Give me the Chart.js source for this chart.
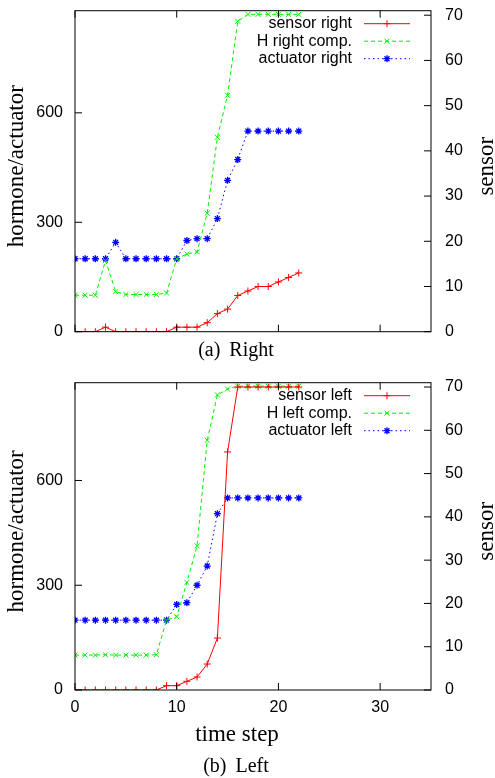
<!DOCTYPE html>
<html>
<head>
<meta charset="utf-8">
<script src="https://cdn.jsdelivr.net/npm/chart.js@4.4.1/dist/chart.umd.min.js"></script>
<style>
  body { margin: 0; background: #fff; width: 495px; height: 778px; position: relative; overflow: hidden; }
  canvas { position: absolute; left: 0; }
  .cap { position: absolute; left: 0; width: 472px; text-align: center; font: 20px "Liberation Serif", serif; word-spacing: 4px; }
</style>
</head>
<body>
<canvas id="chartRight" width="495" height="342" style="top:0"></canvas>
<div class="cap" style="top:338px">(a) Right</div>
<canvas id="chartLeft" width="495" height="380" style="top:370px"></canvas>
<div class="cap" style="top:754px">(b) Left</div>
<script>
// time steps (x)
const steps = [0, 1, 2, 3, 4, 5, 6, 7, 8, 9, 10, 11, 12, 13, 14, 15, 16, 17, 18, 19, 20, 21, 22];
const xTicks = [0, 10, 20, 30];

// (a) right side
const sensorRight   = [0, 0, 0, 1, 0, 0, 0, 0, 0, 0, 1, 1, 1, 2, 4, 5, 8, 9, 10, 10, 11, 12, 13];
const hormoneRight  = [100, 100, 100, 195, 110, 102, 102, 102, 102, 106, 200, 213, 219, 325, 533, 648, 851, 870, 870, 870, 870, 870, 870];
const actuatorRight = [200, 200, 200, 200, 245, 200, 200, 200, 200, 200, 200, 250, 255, 255, 310, 415, 472, 550, 550, 550, 550, 550, 550];

// (b) left side
const sensorLeft   = [0, 0, 0, 0, 0, 0, 0, 0, 0, 1, 1, 2, 3, 6, 12, 55, 70, 70, 70, 70, 70, 70, 70];
const hormoneLeft  = [100, 100, 100, 101, 100, 100, 100, 100, 101, 200, 210, 308, 413, 715, 845, 862, 870, 870, 870, 870, 870, 870, 870];
const actuatorLeft = [200, 200, 200, 200, 200, 200, 200, 200, 200, 200, 245, 250, 300, 355, 505, 550, 550, 550, 550, 550, 550, 550, 550];

const yTicks = [0, 300, 600];
const y2Ticks = [0, 10, 20, 30, 40, 50, 60, 70];

const sans = '"Liberation Sans", Arial, sans-serif';
const serif = '"Liberation Serif", "Times New Roman", serif';
Chart.defaults.font.family = sans;
Chart.defaults.color = '#000';

function pts(vals) {
  return steps.map((s, i) => ({ x: s, y: vals[i] }));
}

function makeSets(names, sensor, hormone, actuator) {
  return [
    { label: names[0], data: pts(sensor), yAxisID: 'y2', borderColor: '#ff0000', backgroundColor: '#ff0000',
      borderWidth: 1, pointStyle: 'cross', pointRadius: 3.5, pointBorderWidth: 1, borderDash: [] },
    { label: names[1], data: pts(hormone), yAxisID: 'y', borderColor: '#00f000', backgroundColor: '#00f000',
      borderWidth: 1, pointStyle: 'crossRot', pointRadius: 3.5, pointBorderWidth: 1, borderDash: [4, 3] },
    { label: names[2], data: pts(actuator), yAxisID: 'y', borderColor: '#0000ff', backgroundColor: '#0000ff',
      borderWidth: 1, pointStyle: 'star', pointRadius: 3.5, pointBorderWidth: 1.3, borderDash: [1.5, 3] }
  ];
}

// gnuplot look: box, inward ticks, legend at top right, axis titles
const gnuplotLook = {
  id: 'gnuplotLook',
  afterDraw(chart, args, opts) {
    const ctx = chart.ctx;
    const a = chart.chartArea;
    const sx = chart.scales.x, sy = chart.scales.y, sy2 = chart.scales.y2;
    ctx.save();
    ctx.strokeStyle = '#000';
    ctx.lineWidth = 1;
    ctx.setLineDash([]);
    ctx.strokeRect(a.left, a.top, a.right - a.left, a.bottom - a.top);
    ctx.beginPath();
    xTicks.forEach(v => {
      const px = sx.getPixelForValue(v);
      ctx.moveTo(px, a.bottom); ctx.lineTo(px, a.bottom - 7);
      ctx.moveTo(px, a.top); ctx.lineTo(px, a.top + 7);
    });
    yTicks.forEach(v => {
      const py = sy.getPixelForValue(v);
      ctx.moveTo(a.left, py); ctx.lineTo(a.left + 7, py);
    });
    y2Ticks.forEach(v => {
      const py = sy2.getPixelForValue(v);
      ctx.moveTo(a.right, py); ctx.lineTo(a.right - 7, py);
    });
    ctx.stroke();

    // axis titles
    const midY = (a.top + a.bottom) / 2 - 5;
    ctx.fillStyle = '#000';
    ctx.font = '23px ' + serif;
    ctx.textAlign = 'center';
    ctx.textBaseline = 'middle';
    ctx.save();
    ctx.translate(17, midY); ctx.rotate(-Math.PI / 2);
    ctx.fillText('hormone/actuator', 0, 0);
    ctx.restore();
    ctx.save();
    ctx.translate(487, midY); ctx.rotate(-Math.PI / 2);
    ctx.fillText('sensor', 0, 0);
    ctx.restore();
    if (opts.xTitle) {
      ctx.fillText(opts.xTitle, 237, a.bottom + 45);
    }

    // legend
    ctx.font = '16px ' + sans;
    ctx.textAlign = 'right';
    chart.data.datasets.forEach((ds, i) => {
      const y = a.top + 13 + i * 17.5;
      ctx.fillStyle = '#000';
      ctx.fillText(ds.label, 352, y);
      ctx.strokeStyle = ds.borderColor;
      ctx.lineWidth = ds.borderWidth;
      ctx.setLineDash(ds.borderDash);
      ctx.beginPath();
      ctx.moveTo(364, y); ctx.lineTo(410, y);
      ctx.stroke();
      ctx.setLineDash([]);
      ctx.lineWidth = ds.pointBorderWidth;
      Chart.helpers.drawPoint(ctx, { pointStyle: ds.pointStyle, radius: ds.pointRadius, rotation: 0, borderWidth: ds.pointBorderWidth }, 387, y);
    });
    ctx.restore();
  }
};

function noPad(s) {
  s.paddingTop = 0; s.paddingBottom = 0; s.paddingLeft = 0; s.paddingRight = 0;
}

function makeChart(id, sets, showX, xHeight, padTop, xTitle) {
  new Chart(document.getElementById(id), {
    type: 'line',
    data: { datasets: sets },
    options: {
      responsive: false,
      animation: false,
      layout: { padding: { top: padTop, left: 0, right: 0, bottom: 0 } },
      plugins: { legend: { display: false }, tooltip: { enabled: false }, gnuplotLook: { xTitle: xTitle } },
      elements: { line: { tension: 0 } },
      scales: {
        x: {
          type: 'linear', min: 0, max: 35,
          afterBuildTicks: s => { s.ticks = xTicks.map(v => ({ value: v })); },
          ticks: { display: showX, padding: 8, font: { size: 16 } },
          grid: { display: false, drawTicks: false },
          border: { display: false },
          afterFit: s => { s.height = xHeight; noPad(s); }
        },
        y: {
          position: 'left', min: 0, max: 880,
          afterBuildTicks: s => { s.ticks = yTicks.map(v => ({ value: v })); },
          ticks: { padding: 12, font: { size: 16 } },
          grid: { display: false, drawTicks: false },
          border: { display: false },
          afterFit: s => { s.width = 75; noPad(s); }
        },
        y2: {
          position: 'right', min: 0, max: 71,
          afterBuildTicks: s => { s.ticks = y2Ticks.map(v => ({ value: v })); },
          ticks: { padding: 14, font: { size: 16 } },
          grid: { display: false, drawTicks: false },
          border: { display: false },
          afterFit: s => { s.width = 64; noPad(s); }
        }
      }
    },
    plugins: [gnuplotLook]
  });
}

makeChart('chartRight', makeSets(['sensor right', 'H right comp.', 'actuator right'], sensorRight, hormoneRight, actuatorRight), false, 10.3, 10.7, null);
makeChart('chartLeft', makeSets(['sensor left', 'H left comp.', 'actuator left'], sensorLeft, hormoneLeft, actuatorLeft), true, 60, 12.7, 'time step');
</script>
</body>
</html>
